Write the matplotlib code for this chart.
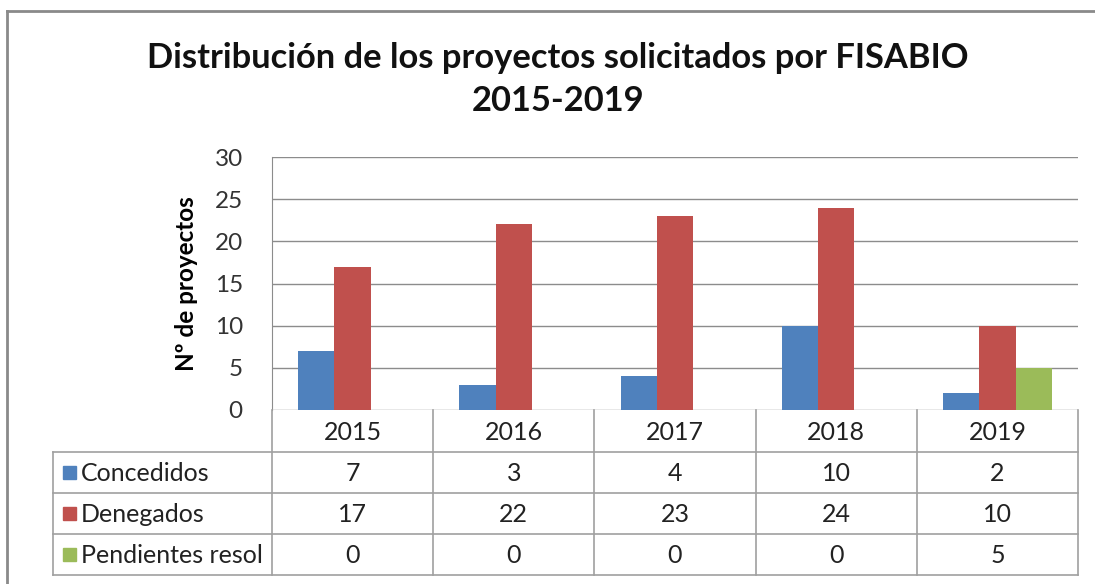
import matplotlib
matplotlib.use("Agg")
import matplotlib.pyplot as plt
from matplotlib.patches import Rectangle
import numpy as np

years = ["2015", "2016", "2017", "2018", "2019"]
series_names = ["Concedidos", "Denegados", "Pendientes resol"]
concedidos = [7, 3, 4, 10, 2]
denegados = [17, 22, 23, 24, 10]
pendientes = [0, 0, 0, 0, 5]
series_values = [concedidos, denegados, pendientes]
colors = ["#4F81BD", "#C0504D", "#9BBB59"]
title_lines = ["Distribución de los proyectos solicitados por FISABIO", "2015-2019"]
ylabel = "Nº de proyectos"
yticks = [0, 5, 10, 15, 20, 25, 30]

plt.rcParams['font.family'] = ['Lato', 'DejaVu Sans']

W, H = 1095, 584
fig = plt.figure(figsize=(W / 100, H / 100), dpi=100)

# layout in pixels
ax_l, ax_r, ax_t, ax_b = 272, 1078, 157, 410
ax = fig.add_axes([ax_l / W, 1 - ax_b / H, (ax_r - ax_l) / W, (ax_b - ax_t) / H])

x = np.arange(len(years))
bw = 0.225
for i, (vals, c) in enumerate(zip(series_values, colors)):
    ax.bar(x + (i - 1) * bw, vals, width=bw, color=c, zorder=3, linewidth=0)

ax.set_xlim(-0.5, len(years) - 0.5)
ax.set_ylim(0, 30)
ax.set_yticks(yticks)
ax.set_xticks([])
ax.yaxis.grid(True, color="#8C8C8C", linewidth=1.0, zorder=0)
ax.tick_params(axis='y', length=0, pad=21, labelsize=17.5, labelcolor="#333333")
for s in ["top", "right", "bottom"]:
    ax.spines[s].set_visible(False)
ax.spines["left"].set_color("#8C8C8C")
ax.set_ylabel(ylabel, fontsize=17.5, fontweight="bold", labelpad=12)

# overlay for table and frame in pixel coords
ov = fig.add_axes([0, 0, 1, 1], zorder=5)
ov.set_xlim(0, W)
ov.set_ylim(H, 0)
ov.axis("off")
ov.patch.set_alpha(0)

line_c = "#A0A0A0"
# outer frame
ov.plot([7, 7], [11, H], color="#8A8A8A", lw=2)
ov.plot([7, W], [11, 11], color="#8A8A8A", lw=2)

# title
ov.text(558, 58, title_lines[0], ha="center", va="center", fontsize=24.8,
        fontweight="bold", color="#111111")
ov.text(558, 101, title_lines[1], ha="center", va="center", fontsize=24.8,
        fontweight="bold", color="#111111")

# table geometry
tab_left = 53
row_y = [ax_b, 452, 493, 534, 575]
ncol = len(years)
col_x = [ax_l + (ax_r - ax_l) * k / ncol for k in range(ncol + 1)]

# vertical lines
ov.plot([ax_l, ax_l], [ax_b, row_y[-1]], color=line_c, lw=1.2)
for cx in col_x[1:]:
    ov.plot([cx, cx], [ax_b, row_y[-1]], color=line_c, lw=1.2)
ov.plot([tab_left, tab_left], [row_y[1], row_y[-1]], color=line_c, lw=1.2)
# horizontal lines
for ry in row_y[1:]:
    ov.plot([tab_left, ax_r], [ry, ry], color=line_c, lw=1.2)

fs = 18
# header years
for k, yr in enumerate(years):
    ov.text((col_x[k] + col_x[k + 1]) / 2, (row_y[0] + row_y[1]) / 2 + 2, yr,
            ha="center", va="center", fontsize=fs, color="#222222")

# rows
for r, (name, vals, c) in enumerate(zip(series_names, series_values, colors)):
    yc = (row_y[r + 1] + row_y[r + 2]) / 2
    ov.add_patch(Rectangle((63, yc - 6.5), 13, 13, color=c))
    ov.text(81, yc + 1, name, ha="left", va="center", fontsize=fs, color="#222222")
    for k, v in enumerate(vals):
        ov.text((col_x[k] + col_x[k + 1]) / 2, yc + 1, str(v),
                ha="center", va="center", fontsize=fs, color="#222222")

fig.savefig("out.png", dpi=100, facecolor="white")
